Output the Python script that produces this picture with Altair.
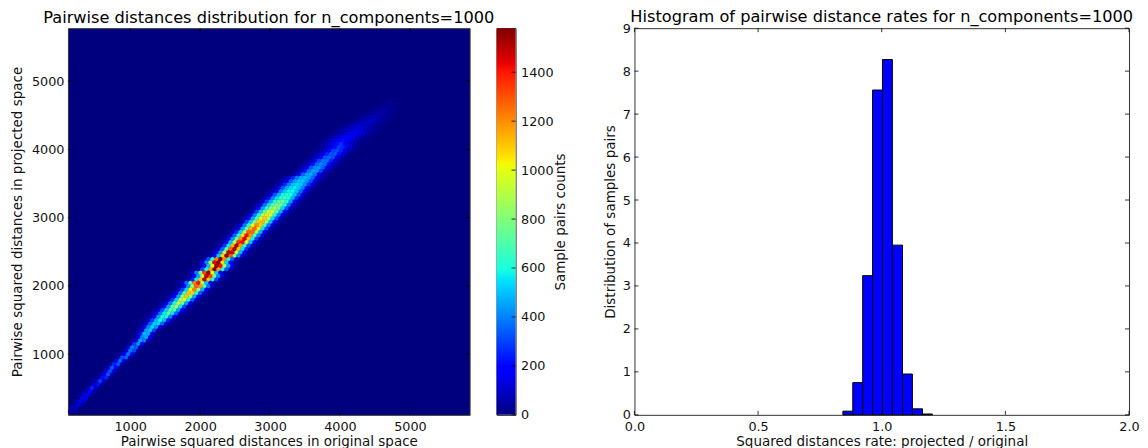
import altair as alt
import pandas as pd

FONT = "DejaVu Sans"
# ---- hexbin: (row, first column, counts along the row)
x_min, x_max = 110.0, 5853.0
y_min, y_max = 111.0, 5776.0
hex_rows = [
 (1,0,[40,30]),(2,1,[90,80]),(3,1,[50,120,40]),(4,2,[40,150,110]),(5,3,[150,140]),
 (6,3,[30,130,170,30]),(7,4,[70,190,60]),(8,5,[70,210,90]),(9,5,[25,120,200,40]),
 (10,7,[90,230,90]),(11,7,[40,200,210,30]),(12,8,[30,150,260,90]),(13,9,[130,250,100]),
 (14,10,[90,270,170,30]),(15,10,[40,210,260,60]),(16,12,[150,290,130,20]),(17,12,[60,250,280,60]),
 (18,13,[40,170,320,180,30]),(19,14,[110,320,250,50]),(20,15,[120,340,270,50]),
 (21,15,[40,230,370,190,30]),(22,16,[30,130,400,330,80]),(23,16,[20,130,340,430,190,40]),
 (24,17,[50,200,460,420,120]),(25,17,[30,130,400,500,240,40]),
 (26,17,[15,50,140,340,520,370,130,40,10]),(27,17,[10,40,110,280,490,530,290,110,35,10]),
 (28,18,[10,35,90,230,450,620,460,210,80,25]),(29,19,[25,70,180,390,630,620,340,130,45,10]),
 (30,20,[15,50,140,320,570,760,550,280,110,35,10]),(31,21,[40,100,260,510,770,720,400,170,60,15]),
 (32,22,[25,70,190,420,750,880,560,240,90,25]),(33,22,[15,50,130,320,640,930,800,400,150,50,10]),
 (34,23,[10,30,90,220,520,900,1000,620,280,100,30]),(35,24,[20,60,170,400,830,1130,850,430,170,55,15]),
 (36,25,[15,40,120,320,700,1130,1100,640,270,100,30]),(37,26,[25,80,230,540,1020,1270,880,430,160,50,10]),
 (38,27,[20,50,160,400,880,1320,1220,720,310,110,30,10]),(39,27,[30,110,300,720,1280,1410,920,460,170,55,15]),
 (40,29,[20,70,210,570,1120,1490,1140,600,240,80,25]),(41,29,[15,45,150,430,960,1480,1370,800,340,120,35,10]),
 (42,30,[35,120,340,800,1370,1550,1020,500,190,60,15]),(43,30,[10,25,80,250,620,1200,1580,1210,660,270,90,25]),
 (44,32,[20,55,190,470,1020,1530,1420,860,390,140,45,15]),(45,32,[35,120,350,850,1430,1550,1060,520,200,65,15]),
 (46,33,[25,85,260,660,1270,1570,1240,660,270,90,25]),(47,34,[20,60,190,490,1090,1540,1340,800,350,130,40,10]),
 (48,35,[15,45,150,390,930,1490,1460,950,440,160,50,15]),(49,36,[30,100,290,740,1320,1510,1120,560,220,70,20]),
 (50,37,[25,75,220,570,1170,1520,1210,650,270,90,25]),(51,37,[20,55,180,470,900,1390,1420,970,470,180,60,15]),
 (52,38,[15,45,140,370,780,1240,1450,1120,590,240,80,20]),(53,39,[30,100,280,620,1060,1410,1230,740,340,120,35]),
 (54,40,[25,75,210,520,900,1330,1310,860,430,160,50,15]),(55,41,[50,150,400,770,1170,1310,1030,560,240,80,20]),
 (56,42,[35,110,320,640,1000,1240,1110,700,320,120,35]),(57,43,[75,240,510,830,1120,1160,840,450,190,70,20]),
 (58,44,[55,180,410,720,1000,1110,910,540,250,90,30]),(59,44,[40,130,320,620,890,1050,950,630,320,130,45]),
 (60,46,[90,240,510,790,950,960,740,430,190,70,20]),(61,46,[60,180,400,660,840,890,800,520,260,100,35]),
 (62,47,[40,130,300,540,740,800,810,600,320,140,50,15]),(63,47,[30,90,230,430,640,750,770,660,390,190,75,25]),
 (64,49,[65,170,340,530,670,690,630,440,220,95,35]),(65,49,[45,120,260,430,590,650,620,470,270,120,45,15]),
 (66,50,[30,85,190,340,490,590,590,480,310,160,65,20]),(67,51,[60,140,270,420,530,570,490,340,190,85,30]),
 (68,52,[40,100,210,340,470,530,500,370,220,110,45,15]),(69,52,[25,70,150,270,390,480,490,390,260,140,60,20]),
 (70,54,[50,110,210,320,420,450,410,290,170,80,30]),(71,55,[20,60,150,280,400,430,320,170,70,30]),
 (72,56,[10,40,100,200,320,400,380,240,120,50,20]),(73,57,[30,70,150,260,350,370,280,160,80,30]),
 (74,58,[20,50,110,200,290,340,310,200,110,50,20]),(75,59,[30,80,150,240,310,300,210,130,60,25]),
 (76,60,[20,60,110,190,260,290,250,160,90,40,15]),(77,60,[15,40,80,140,210,260,270,200,120,60,25]),
 (78,61,[10,30,60,110,170,230,250,210,140,80,35,15]),(79,62,[20,45,90,140,200,230,210,150,90,45,20]),
 (80,62,[10,30,60,110,160,200,220,180,130,80,40,15]),(81,63,[20,45,85,130,170,200,190,140,90,50,25,10]),
 (82,64,[15,35,70,105,140,175,180,150,105,65,35,15]),(83,65,[10,30,55,85,120,150,160,140,100,65,35,15]),
 (84,66,[10,20,45,75,100,130,140,125,95,65,40,20,10]),(85,67,[15,35,60,85,110,120,110,85,60,35,20,10]),
 (86,69,[10,25,45,70,90,100,95,75,50,30,15]),(87,71,[20,35,55,75,85,80,65,45,25,15]),
 (88,72,[15,25,40,55,65,60,50,35,20,10]),(89,73,[10,20,30,45,50,50,40,25,15]),
 (90,75,[10,20,30,40,40,30,20,10]),(91,76,[10,20,25,30,25,15,10]),
 (92,78,[10,15,20,20,15,10]),(93,79,[10,15,15,10]),
]
col_step = (x_max - x_min) / 100
row_step = (y_max - y_min) / 114
hex_recs = []
for r, i0, counts in hex_rows:
    for k, c in enumerate(counts):
        hex_recs.append({
            "x": x_min + col_step * (i0 + k + (0.5 if r % 2 else 0)),
            "y": y_min + row_step * r,
            "count": c,
        })
hex_df = pd.DataFrame(hex_recs)

# jet colour map stops
jet_offsets = [0, .11, .125, .34, .35, .375, .64, .65, .66, .89, .91, 1]
jet_colors = ["#00007f", "#0000ff", "#0000ff", "#00dbff", "#00e5f7", "#16ffe1",
              "#ebff0c", "#f4f802", "#ffea00", "#ff1300", "#e80000", "#7f0000"]
count_max = 1580.0

x1_ticks = [1000, 2000, 3000, 4000, 5000]
y1_ticks = [1000, 2000, 3000, 4000, 5000]
cb_ticks = [0, 200, 400, 600, 800, 1000, 1200, 1400]
x2_ticks = [0.0, 0.5, 1.0, 1.5, 2.0]
y2_ticks = [0, 1, 2, 3, 4, 5, 6, 7, 8, 9]

bin_left = [0.843, 0.883, 0.923, 0.963, 1.003, 1.043, 1.084, 1.124, 1.165]
bin_right = [0.883, 0.923, 0.963, 1.003, 1.043, 1.084, 1.124, 1.165, 1.205]
bin_height = [0.085, 0.75, 3.24, 7.56, 8.27, 3.95, 0.95, 0.14, 0.02]

title1 = "Pairwise distances distribution for n_components=1000"
title2 = "Histogram of pairwise distance rates for n_components=1000"
xt1 = "Pairwise squared distances in original space"
yt1 = "Pairwise squared distances in projected space"
cbt = "Sample pairs counts"
xt2 = "Squared distances rate: projected / original"
yt2 = "Distribution of samples pairs"

W1, H, CBW, W2 = 402, 387, 19, 495
TICK = 4
LABEL = 12.8
TITLE_SZ = 16.2
AXT = 13.5


def inward_ticks(scale_x, scale_y, ax_x, ax_y, xticks, yticks, w, h):
    xd = pd.DataFrame({"v": xticks})
    yd = pd.DataFrame({"v": yticks})
    base = dict(color="black", strokeWidth=0.8)
    X = alt.X("v:Q", scale=scale_x, axis=ax_x)
    Y = alt.Y("v:Q", scale=scale_y, axis=ax_y)
    return [
        alt.Chart(xd).mark_rule(**base).encode(x=X, y=alt.value(h), y2=alt.value(h - TICK)),
        alt.Chart(xd).mark_rule(**base).encode(x=X, y=alt.value(0), y2=alt.value(TICK)),
        alt.Chart(yd).mark_rule(**base).encode(y=Y, x=alt.value(0), x2=alt.value(TICK)),
        alt.Chart(yd).mark_rule(**base).encode(y=Y, x=alt.value(w), x2=alt.value(w - TICK)),
    ]


def axis(title, values, fmt="d", **kw):
    return alt.Axis(title=title, values=values, format=fmt, grid=False, ticks=False, domain=False,
                    labelFont=FONT, labelFontSize=LABEL, labelColor="#111", labelFlush=False,
                    titleFont=FONT, titleFontSize=AXT, titleFontWeight="normal", titleColor="#111",
                    labelOverlap=False, **kw)


def ttl(text, offset):
    return alt.Title(text, font=FONT, fontSize=TITLE_SZ, fontWeight="normal", color="black",
                     anchor="middle", offset=offset)


# left: hexbin
sx1 = alt.Scale(domain=[x_min, x_max], nice=False, zero=False)
sy1 = alt.Scale(domain=[y_min, y_max], nice=False, zero=False)
ax1 = axis(xt1, x1_ticks, labelPadding=6, titlePadding=1)
ay1 = axis(yt1, y1_ticks, labelPadding=4, titlePadding=7)
color_scale = alt.Scale(domain=[o * count_max for o in jet_offsets], range=jet_colors, clamp=True)
HEX = "M0,-1.13L1,-0.567L1,0.567L0,1.13L-1,0.567L-1,-0.567Z"
hexes = alt.Chart(hex_df).mark_point(filled=True, shape=HEX, size=16.3, opacity=1, strokeWidth=0.3, clip=True).encode(
    x=alt.X("x:Q", scale=sx1, axis=ax1),
    y=alt.Y("y:Q", scale=sy1, axis=ay1),
    fill=alt.Fill("count:Q", scale=color_scale, legend=None),
    stroke=alt.Stroke("count:Q", scale=color_scale, legend=None),
)
left = alt.layer(hexes, *inward_ticks(sx1, sy1, ax1, ay1, x1_ticks, y1_ticks, W1, H)).properties(
    width=W1, height=H, title=ttl(title1, 2),
    view=alt.ViewBackground(fill="#00007f", stroke="#333", strokeWidth=1),
)

# colour bar
sy_cb = alt.Scale(domain=[0, count_max], nice=False, zero=False)
ay_cb = axis(cbt, cb_ticks, orient="right", labelPadding=5, titlePadding=14, titleAngle=270)
grad = alt.LinearGradient(
    gradient="linear", x1=0, x2=0, y1=1, y2=0,
    stops=[alt.GradientStop(offset=o, color=c) for o, c in zip(jet_offsets, jet_colors)],
)
cb_rect = alt.Chart(pd.DataFrame({"lo": [0.0], "hi": [count_max]})).mark_rect(color=grad).encode(
    y=alt.Y("lo:Q", scale=sy_cb, axis=ay_cb),
    y2="hi:Q",
    x=alt.value(0), x2=alt.value(CBW),
)
cb_ticks_mark = alt.Chart(pd.DataFrame({"v": cb_ticks})).mark_rule(color="black", strokeWidth=0.8).encode(
    y=alt.Y("v:Q", scale=sy_cb, axis=ay_cb), x=alt.value(CBW), x2=alt.value(CBW - TICK),
)
cbar = alt.layer(cb_rect, cb_ticks_mark).properties(
    width=CBW, height=H,
    view=alt.ViewBackground(fill=None, stroke="#222", strokeWidth=1),
)

# right: histogram
sx2 = alt.Scale(domain=[0, 2], nice=False, zero=False)
sy2 = alt.Scale(domain=[0, 9], nice=False, zero=True)
ax2 = axis(xt2, x2_ticks, fmt=".1f", labelPadding=6, titlePadding=1)
ay2 = axis(yt2, y2_ticks, labelPadding=4, titlePadding=5)
hist_df = pd.DataFrame({"a": bin_left, "b": bin_right, "h": bin_height, "z": [0.0] * len(bin_left)})
bars = alt.Chart(hist_df).mark_rect(fill="#0000ff", stroke="black", strokeWidth=1).encode(
    x=alt.X("a:Q", scale=sx2, axis=ax2),
    x2="b:Q",
    y=alt.Y("z:Q", scale=sy2, axis=ay2),
    y2="h:Q",
)
right = alt.layer(bars, *inward_ticks(sx2, sy2, ax2, ay2, x2_ticks, y2_ticks, W2, H)).properties(
    width=W2, height=H, title=ttl(title2, -3),
    view=alt.ViewBackground(fill="white", stroke="#333", strokeWidth=1),
)

inner = alt.hconcat(left, cbar, spacing=0)
chart = alt.hconcat(inner, right, spacing=35).properties(
    padding={"left": 1, "top": 0, "right": 0, "bottom": 0}, background="white"
)
chart.save("out.html", embed_options={"renderer": "svg", "actions": False})
